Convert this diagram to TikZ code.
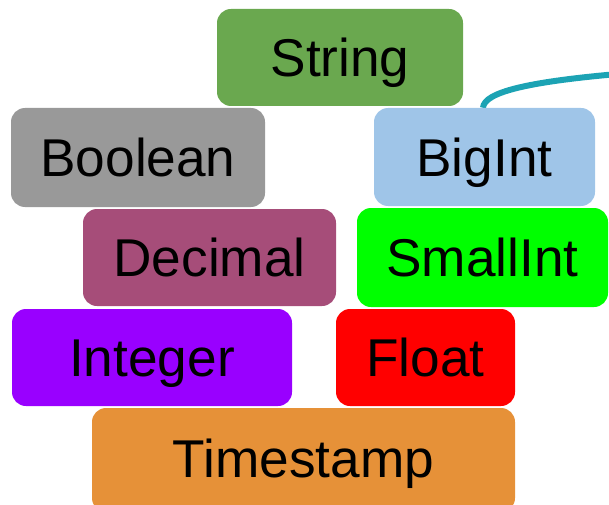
\documentclass[tikz,border=0pt]{standalone}
\usepackage{fontspec}
\setmainfont{Liberation Sans}
\usetikzlibrary{backgrounds}
\definecolor{cString}{HTML}{6AA84F}
\definecolor{cBoolean}{HTML}{999999}
\definecolor{cBigInt}{HTML}{9FC5E8}
\definecolor{cDecimal}{HTML}{A64D79}
\definecolor{cSmallInt}{HTML}{00FF00}
\definecolor{cInteger}{HTML}{9900FF}
\definecolor{cFloat}{HTML}{FF0000}
\definecolor{cTimestamp}{HTML}{E69138}
\definecolor{cLink}{HTML}{1CA3B4}
\begin{document}
\begin{tikzpicture}[x=1pt,y=1pt,
  tbox/.style={rectangle, rounded corners=14pt, inner sep=0pt,
    text height=38.5pt, text depth=0pt,
    font=\fontsize{53.2}{60}\selectfont, text=black},
  link/.style={draw=cLink, line width=6pt}]
\useasboundingbox (0,0) rectangle (609,504);
\node[tbox, fill=cString,    minimum width=246pt, minimum height=97pt] (string) at (340,446.5) {String};
\node[tbox, fill=cBoolean,   minimum width=254pt, minimum height=99pt] (bool)   at (138,346.5) {Boolean};
\node[tbox, fill=cBigInt,    minimum width=221pt, minimum height=98pt] (big)    at (484.5,347) {BigInt};
\node[tbox, fill=cDecimal,   minimum width=253pt, minimum height=97pt] (dec)    at (209.5,246.5) {Decimal};
\node[tbox, fill=cSmallInt,  minimum width=251pt, minimum height=99pt] (small)  at (482.5,246.5) {SmallInt};
\node[tbox, fill=cInteger,   minimum width=280pt, minimum height=97pt] (int)    at (152,146.5) {Integer};
\node[tbox, fill=cFloat,     minimum width=179pt, minimum height=97pt] (float)  at (425.5,146.5) {Float};
\node[tbox, fill=cTimestamp, minimum width=423pt, minimum height=104pt] (ts)    at (303.5,44) {\raisebox{2pt}{Timestamp}};
\coordinate (tail) at (612,429.5);
\begin{scope}[on background layer]
  \draw[link] ([xshift=-1.5pt]big.north) .. controls +(1,16) and (530,422) .. (tail);
\end{scope}
\end{tikzpicture}
\end{document}
